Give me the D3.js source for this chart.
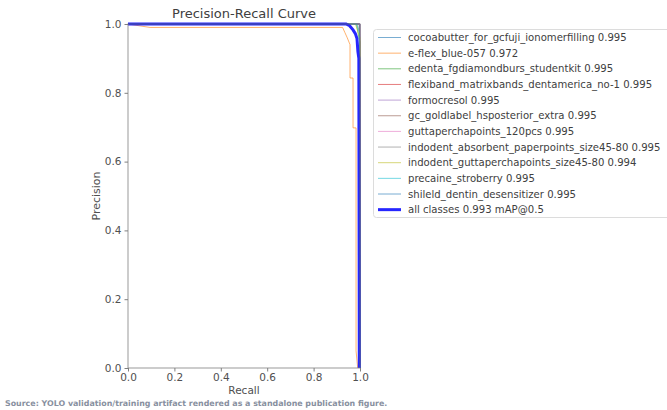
<!DOCTYPE html>
<html><head><meta charset="utf-8">
<script src="https://cdn.jsdelivr.net/npm/d3@7"></script>
<style>
html,body{margin:0;padding:0;background:#fff;}
svg{display:block;font-family:"DejaVu Sans",sans-serif;}
</style></head>
<body><svg id="c" width="667" height="410"></svg>
<script>
const classNames = ["cocoabutter_for_gcfuji_ionomerfilling","e-flex_blue-057","edenta_fgdiamondburs_studentkit","flexiband_matrixbands_dentamerica_no-1","formocresol","gc_goldlabel_hsposterior_extra","guttaperchapoints_120pcs","indodent_absorbent_paperpoints_size45-80","indodent_guttaperchapoints_size45-80","precaine_stroberry","shileld_dentin_desensitizer"];
const classAP = [0.995,0.972,0.995,0.995,0.995,0.995,0.995,0.995,0.994,0.995,0.995];
const classColors = ["#1f77b4","#ff7f0e","#2ca02c","#d62728","#9467bd","#8c564b","#e377c2","#7f7f7f","#bcbd22","#17becf","#1f77b4"];
// recall / precision pairs per class
const classCurves = [
  [[0,1],[0.999,1],[1,0]],
  [[0,1],[0.095,0.99],[0.925,0.99],[0.935,0.975],[0.945,0.96],[0.957,0.94],[0.957,0.843],[0.97,0.843],[0.97,0.698],[0.983,0.698],[0.983,0.05],[0.99,0]],
  [[0,1],[0.985,1],[0.995,0.96],[1,0.95],[1,0]],
  [[0,1],[0.999,1],[1,0]],
  [[0,1],[0.999,1],[1,0]],
  [[0,1],[0.999,1],[1,0]],
  [[0,1],[0.999,1],[1,0]],
  [[0,1],[0.99,1],[0.998,0.97],[1,0]],
  [[0,1],[0.98,1],[0.995,0.97],[1,0.96],[1,0]],
  [[0,1],[0.985,1],[0.997,0.975],[1,0]],
  [[0,1],[0.999,1],[1,0]]
];
const allLabel = "all classes 0.993 mAP@0.5";
const allCurve = [[0,1],[0.94,1],[0.955,0.995],[0.97,0.983],[0.98,0.972],[0.987,0.958],[0.991,0.92],[0.995,0.9],[0.997,0]];
const xTicks = [0,0.2,0.4,0.6,0.8,1.0];
const yTicks = [0,0.2,0.4,0.6,0.8,1.0];
const titleText = "Precision-Recall Curve";
const xLabel = "Recall", yLabel = "Precision";
const sourceText = "Source: YOLO validation/training artifact rendered as a standalone publication figure.";

const svg = d3.select("#c");
const L = 128, R = 360, T = 24, B = 368;
const x = d3.scaleLinear().domain([0,1]).range([L,R]);
const y = d3.scaleLinear().domain([0,1]).range([B,T]);
const axCol = "#808080", txtCol = "#505050";

const line = d3.line().x(d=>x(d[0])).y(d=>y(d[1]));
const g = svg.append("g");
classCurves.forEach((c,i)=>{
  g.append("path").attr("d",line(c)).attr("fill","none")
   .attr("stroke",classColors[i]).attr("stroke-width",1).attr("stroke-opacity",0.6);
});
g.append("path").attr("d",line(allCurve)).attr("fill","none")
 .attr("stroke","#0000ff").attr("stroke-width",3).attr("stroke-opacity",0.85);

// spines
svg.append("rect").attr("x",L).attr("y",T).attr("width",R-L).attr("height",B-T)
  .attr("fill","none").attr("stroke",axCol).attr("stroke-width",1).attr("stroke-opacity",0.8);

const xa = svg.append("g").attr("transform",`translate(0,${B})`)
  .call(d3.axisBottom(x).tickValues(xTicks).tickFormat(d3.format(".1f")).tickSize(3.5).tickPadding(2));
const ya = svg.append("g").attr("transform",`translate(${L},0)`)
  .call(d3.axisLeft(y).tickValues(yTicks).tickFormat(d3.format(".1f")).tickSize(3.5).tickPadding(3));
[xa,ya].forEach(a=>{
  a.select(".domain").remove();
  a.selectAll("line").attr("stroke",axCol);
  a.selectAll("text").attr("fill",txtCol).style("font-size","10.5px").style("font-family","DejaVu Sans");
});

svg.append("text").attr("x",(L+R)/2).attr("y",18).attr("text-anchor","middle")
  .attr("fill","#404040").style("font-size","13px").text(titleText);
svg.append("text").attr("x",(L+R)/2).attr("y",394).attr("text-anchor","middle")
  .attr("fill",txtCol).style("font-size","10.5px").text(xLabel);
svg.append("text").attr("transform",`translate(100,${(T+B)/2}) rotate(-90)`).attr("text-anchor","middle")
  .attr("fill",txtCol).style("font-size","11px").text(yLabel);

// legend
const lg = svg.append("g");
lg.append("rect").attr("x",373.5).attr("y",29.5).attr("width",320).attr("height",188).attr("rx",3)
  .attr("fill","#fff").attr("fill-opacity",0.8).attr("stroke","#dcdcdc");
const entries = classNames.map((n,i)=>({label:`${n} ${classAP[i]}`,color:classColors[i],w:1,o:0.6}))
  .concat([{label:allLabel,color:"#0000ff",w:3,o:0.85}]);
entries.forEach((e,i)=>{
  const yy = 37.5 + i*15.65;
  lg.append("line").attr("x1",378).attr("x2",401).attr("y1",yy).attr("y2",yy)
    .attr("stroke",e.color).attr("stroke-width",e.w).attr("stroke-opacity",e.o);
  lg.append("text").attr("x",408).attr("y",yy+3.6).attr("fill","#404040")
    .style("font-size","10.1px").text(e.label);
});

svg.append("text").attr("x",5).attr("y",406).attr("fill","#8890a0")
  .style("font-size","7.9px").style("font-weight","bold").text(sourceText);
</script></body></html>
